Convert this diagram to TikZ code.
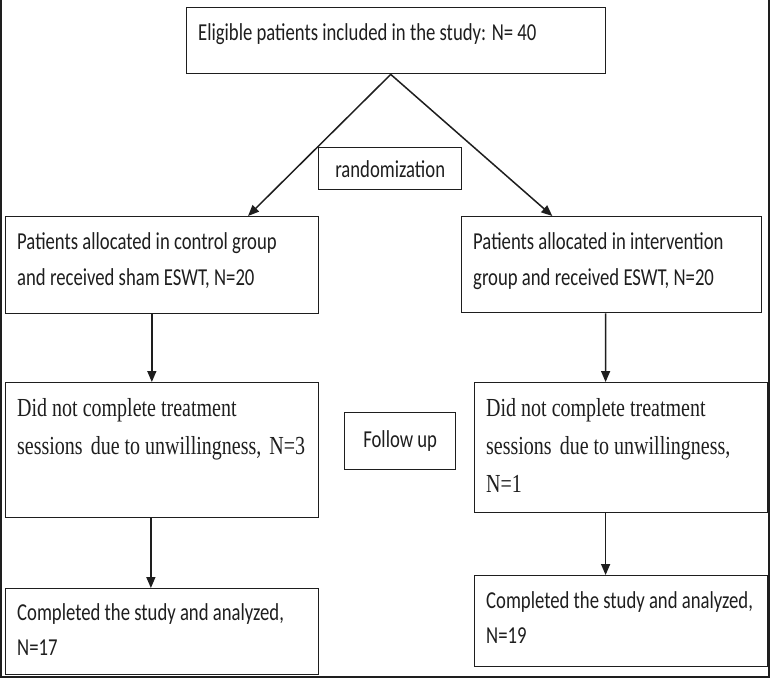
\documentclass[tikz,border=0pt]{standalone}
\usepackage{fontspec}
\setmainfont{Carlito}
\newfontfamily\serifbody{Liberation Serif}
\usetikzlibrary{arrows.meta,calc}
\definecolor{ink}{HTML}{1E1E1E}
\newcommand{\vsc}[1]{\scalebox{1}[1.3]{#1}}
\tikzset{
  box/.style={draw=ink,line width=1.4pt,anchor=north west,inner sep=0pt},
  sans/.style={anchor=base west,inner sep=0pt,text=ink,font=\fontsize{18.7}{20}\selectfont},
  serif/.style={anchor=base west,inner sep=0pt,text=ink,font=\fontsize{20}{22}\serifbody},
  lbl/.style={inner sep=0pt,text=ink,font=\fontsize{18.7}{20}\selectfont},
  conn/.style={draw=ink,line width=1.5pt,-{Triangle[length=11pt,width=9pt]}},
  frame/.style={draw=ink,line width=2pt}
}
\begin{document}
\begin{tikzpicture}[x=1pt,y=-1pt]
\useasboundingbox (0,0) rectangle (770,678);
\fill[white] (0,0) rectangle (770,678);
% frame
\coordinate (f1) at (1,0);
\coordinate (f2) at (1,677);
\coordinate (f3) at (769,677);
\coordinate (f4) at (769,0);
\draw[frame] (f1) -- (f2) -- (f3) -- (f4);
% boxes
\node[box,minimum width=419pt,minimum height=66pt] (top) at (186,7) {};
\node[box,minimum width=143pt,minimum height=42pt] (rand) at (318,147) {};
\node[box,minimum width=313pt,minimum height=97pt] (L2) at (5,216) {};
\node[box,minimum width=300pt,minimum height=96pt] (R2) at (461,216) {};
\node[box,minimum width=313pt,minimum height=135pt] (L3) at (5,382) {};
\node[box,minimum width=111pt,minimum height=57pt] (fu) at (344,412) {};
\node[box,minimum width=293pt,minimum height=130pt] (R3) at (474,382) {};
\node[box,minimum width=313pt,minimum height=86pt] (L4) at (5,588) {};
\node[box,minimum width=293pt,minimum height=91pt] (R4) at (474,575) {};
% texts
\node[sans] (ttop) at (198,40) {\vsc{Eligible patients included in the study: N= 40}};
\node[lbl] (trand) at (rand.center) {\vsc{randomization}};
\node[sans] (tL2a) at (17,249) {\vsc{Patients allocated in control group}};
\node[sans] (tL2b) at (17,285) {\vsc{and received sham ESWT, N=20}};
\node[sans] (tR2a) at (473,249) {\vsc{Patients allocated in intervention}};
\node[sans] (tR2b) at (473,285) {\vsc{group and received ESWT, N=20}};
\node[serif] (tL3a) at (17,416) {\vsc{Did not complete treatment}};
\node[serif] (tL3b) at (17,454) {\vsc{sessions\hspace{3pt} due to unwillingness,\hspace{3pt} N=3}};
\node[lbl] (tfu) at (fu.center) {\vsc{Follow up}};
\node[serif] (tR3a) at (486,416) {\vsc{Did not complete treatment}};
\node[serif] (tR3b) at (486,454) {\vsc{sessions\hspace{3pt} due to unwillingness,}};
\node[serif] (tR3c) at (486,492) {\vsc{N=1}};
\node[sans] (tL4a) at (17,620) {\vsc{Completed the study and analyzed,}};
\node[sans] (tL4b) at (17,655) {\vsc{N=17}};
\node[sans] (tR4a) at (486,608) {\vsc{Completed the study and analyzed,}};
\node[sans] (tR4b) at (486,643) {\vsc{N=19}};
% connectors
\coordinate (apex) at ($(top.south west)!0.487!(top.south east)$);
\draw[conn] (apex) -- ($(L2.north west)!0.773!(L2.north east)$);
\draw[conn] (apex) -- ($(R2.north west)!0.303!(R2.north east)$);
\draw[conn] ($(L2.south west)!0.467!(L2.south east)$) -- ($(L3.north west)!0.467!(L3.north east)$);
\draw[conn] ($(R2.south west)!0.48!(R2.south east)$) -- ($(R3.north west)!0.447!(R3.north east)$);
\draw[conn] ($(L3.south west)!0.464!(L3.south east)$) -- ($(L4.north west)!0.464!(L4.north east)$);
\draw[conn] ($(R3.south west)!0.447!(R3.south east)$) -- ($(R4.north west)!0.447!(R4.north east)$);
\end{tikzpicture}
\end{document}
